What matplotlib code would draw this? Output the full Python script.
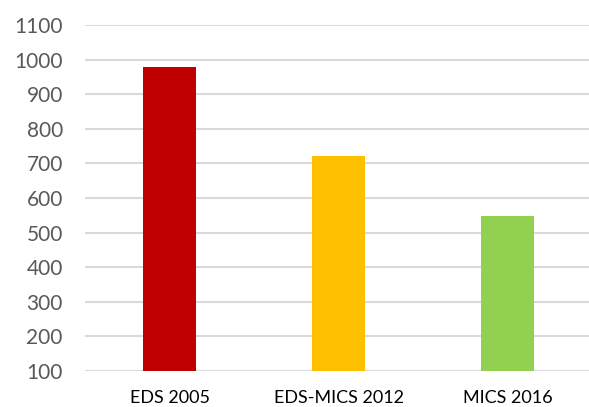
import matplotlib
matplotlib.use("Agg")
import matplotlib.pyplot as plt

categories = ["EDS 2005", "EDS-MICS 2012", "MICS 2016"]
values = [980, 722, 549]
colors = ["#C00000", "#FFC000", "#92D050"]
yticks = list(range(100, 1101, 100))

plt.rcParams["font.family"] = ["Lato", "DejaVu Sans"]

fig = plt.figure(figsize=(5.89, 4.07), dpi=100)
ax = fig.add_axes([85 / 589, 36.3 / 407, 507 / 589, 345.4 / 407])

ax.bar(range(len(categories)), values, width=0.315, color=colors, zorder=3)

ax.set_xlim(-0.5, len(categories) - 0.5)
ax.set_ylim(100, 1100)
ax.set_yticks(yticks)
ax.set_xticks(range(len(categories)))
ax.set_xticklabels(categories, fontsize=13, color="black")
ax.tick_params(axis="y", labelsize=15, labelcolor="#595959", length=0, pad=16)
ax.tick_params(axis="x", length=0, pad=14)

ax.grid(axis="y", color="#d9d9d9", linewidth=1.5, zorder=0)
for s in ax.spines.values():
    s.set_visible(False)

fig.savefig("out.png", dpi=100)
